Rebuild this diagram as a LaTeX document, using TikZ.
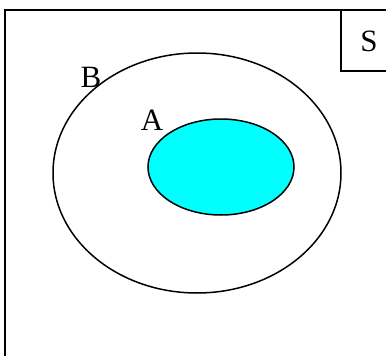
\documentclass[tikz,border=0pt]{standalone}
\usepackage{fontspec}
\setmainfont{Liberation Serif}
\definecolor{aqua}{RGB}{0,255,255}
\begin{document}
\begin{tikzpicture}[x=1pt,y=-1pt,
  line/.style={draw=black,line width=1.5pt},
  lbl/.style={inner sep=0pt,font=\fontsize{31}{34}\selectfont}]
\useasboundingbox (0,0) rectangle (386,356);
\clip (0,0) rectangle (386,356);
\fill[white] (0,0) rectangle (386,356);
% frame
\draw[line] (390,10) -- (5,10) -- (5,360);
% S box
\draw[line] (390,71) -- (341,71) -- (341,10);
\node[lbl] (S) at (369,41) {S};
% ellipses
\draw[line] (197,173) ellipse [x radius=144, y radius=120];
\path[line,fill=aqua] (221,167) ellipse [x radius=73, y radius=48];
\node[lbl] (B) at (91,77) {B};
\node[lbl] (A) at (152,120) {A};
\end{tikzpicture}
\end{document}
